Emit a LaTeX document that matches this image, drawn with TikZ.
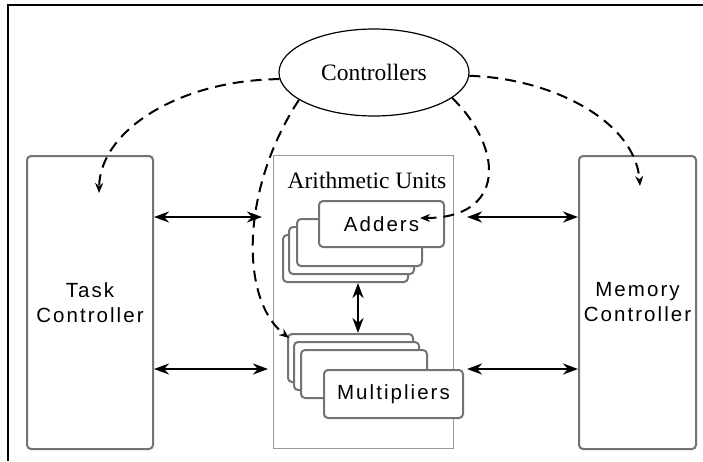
\documentclass[tikz,border=0pt]{standalone}
\usepackage{fontspec}
\setmainfont{Liberation Serif}
\newfontfamily\labelfont[LetterSpace=10]{Liberation Sans}
\usetikzlibrary{arrows.meta,shapes.geometric}
\begin{document}
\begin{tikzpicture}[x=1pt,y=-1pt,
  frameline/.style={line width=1.7pt,black},
  ctrlbox/.style={draw=black!55,line width=2pt,rounded corners=4pt,fill=white,inner sep=0pt,anchor=north west,align=center,text=black,font=\labelfont\fontsize{20.5}{25}\selectfont},
  unitbox/.style={draw=black!55,line width=2pt,rounded corners=4pt,fill=white,inner sep=0pt,anchor=north west,text=black,font=\labelfont\fontsize{20.5}{24}\selectfont},
  aubox/.style={draw=black!40,line width=1.1pt,inner sep=0pt,anchor=north west},
  dbl/.style={{Stealth[length=15pt,width=11pt]}-{Stealth[length=15pt,width=11pt]},line width=2.6pt},
  dsh/.style={dash pattern=on 11pt off 7pt,line width=2pt,-{Stealth[length=10pt,width=8pt]}}
]
\useasboundingbox (0,0) rectangle (703,461);
\fill[white] (0,0) rectangle (703,461);
% frame
\draw[frameline] (8,461) -- (8,5) -- (703,5);

% controllers
\node[draw,ellipse,line width=1.2pt,minimum width=190pt,minimum height=87pt,inner sep=0pt,font=\fontsize{23.5}{26}\selectfont] (ctrl) at (374,72.5) {Controllers};

% side controllers
\node[ctrlbox,minimum width=126pt,minimum height=293pt] (task) at (26,155) {Task\\Controller};
\node[ctrlbox,minimum width=117pt,minimum height=293pt] (mem) at (578,155) {Memory\\Controller};

% arithmetic units
\node[aubox,minimum width=180pt,minimum height=293pt] (au) at (273,155) {};
\node[font=\fontsize{23.5}{26}\selectfont] (aulabel) at (367,180) {Arithmetic Units};

% adders stack
\node[unitbox,minimum width=125pt,minimum height=47pt] (a0) at (282,234) {};
\node[unitbox,minimum width=125pt,minimum height=47pt] (a1) at (288,226) {};
\node[unitbox,minimum width=125pt,minimum height=47pt] (a2) at (296,218) {};
\node[unitbox,minimum width=125pt,minimum height=46pt] (a3) at (318,200) {Adders};

% multipliers stack
\node[unitbox,minimum width=125pt,minimum height=48pt] (m0) at (287,333) {};
\node[unitbox,minimum width=125pt,minimum height=48pt] (m1) at (293,341) {};
\node[unitbox,minimum width=126pt,minimum height=48pt] (m2) at (300,349) {};
\node[unitbox,minimum width=139pt,minimum height=48pt] (m3) at (323,369) {Multipliers};

% solid arrows
\coordinate (lt) at (262,217);
\coordinate (lb) at (268,369);
\coordinate (rt) at (467,217);
\coordinate (rb) at (467,369);
\coordinate (vx) at (358,300);
\draw[dbl] (task.east |- lt) -- (lt);
\draw[dbl] (task.east |- lb) -- (lb);
\draw[dbl] (rt) -- (mem.west |- rt);
\draw[dbl] (rb) -- (mem.west |- rb);
\draw[dbl] (a0.south -| vx) -- (m0.north -| vx);

% dashed arrows
\coordinate (taskin) at (99,193);
\coordinate (memin) at (640,186);
\coordinate (mulin) at (289,338);
\coordinate (addin) at (420,218);
\draw[dsh] (ctrl.184) .. controls (180,80) and (100,130) .. (taskin);
\draw[dsh] (ctrl.-2) .. controls (550,78) and (635,120) .. (memin);
\draw[dsh] (ctrl.200) .. controls (240,190) and (240,300) .. (mulin);
\draw[dsh] (ctrl.-18) .. controls (505,150) and (505,218) .. (addin);
\end{tikzpicture}
\end{document}
